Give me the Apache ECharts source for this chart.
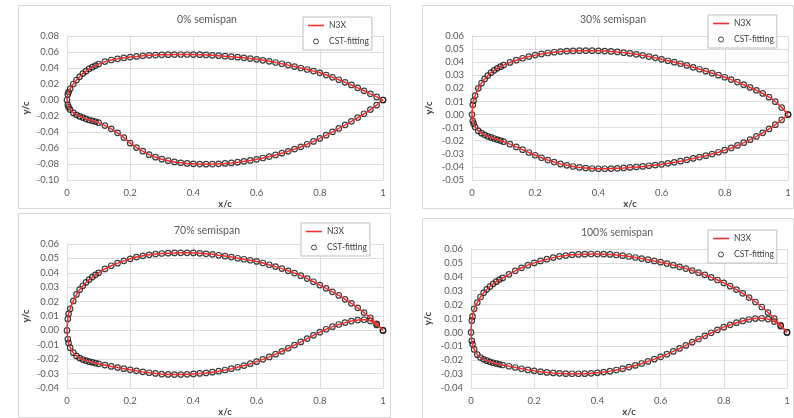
<!DOCTYPE html>
<html>
<head>
<meta charset="utf-8">
<script src="https://cdn.jsdelivr.net/npm/echarts@6/dist/echarts.min.js"></script>
<style>
html, body { margin: 0; padding: 0; background: #fff; }
#chart { width: 794px; height: 418px; }
</style>
</head>
<body>
<div id="chart"></div>
<script>
// chordwise stations shared by every section
const xStations = [0, 0.0025, 0.005, 0.01, 0.02, 0.03, 0.04, 0.05, 0.06, 0.07, 0.08, 0.09, 0.10,
    0.12, 0.14, 0.16, 0.18, 0.20,
    0.22, 0.24, 0.26, 0.28, 0.30,
    0.32, 0.34, 0.36, 0.38, 0.40,
    0.42, 0.44, 0.46, 0.48, 0.50,
    0.52, 0.54, 0.56, 0.58, 0.60,
    0.62, 0.64, 0.66, 0.68, 0.70,
    0.72, 0.74, 0.76, 0.78, 0.80,
    0.82, 0.84, 0.86, 0.88, 0.90,
    0.92, 0.94, 0.96, 0.98, 1.00];

// 0% semispan
const upper0 = [0, 0.007, 0.010, 0.014, 0.020, 0.025, 0.029, 0.033, 0.036, 0.039, 0.041, 0.043, 0.045,
    0.0480, 0.0500, 0.0515, 0.0527, 0.0537,
    0.0545, 0.0552, 0.0558, 0.0562, 0.0565,
    0.0567, 0.0568, 0.0569, 0.0569, 0.0568,
    0.0566, 0.0563, 0.0559, 0.0554, 0.0548,
    0.0542, 0.0535, 0.0527, 0.0518, 0.0508,
    0.0496, 0.0483, 0.0469, 0.0453, 0.0436,
    0.0418, 0.0400, 0.0381, 0.0361, 0.0340,
    0.0312, 0.0283, 0.0253, 0.0221, 0.0188,
    0.0152, 0.0115, 0.0077, 0.0039, 0];
const lower0 = [0, -0.006, -0.009, -0.012, -0.016, -0.0185, -0.0205, -0.022, -0.0235, -0.025, -0.026, -0.027, -0.0283,
    -0.0320, -0.0360, -0.0410, -0.0470, -0.0540,
    -0.0595, -0.0640, -0.0683, -0.0715, -0.0740,
    -0.0759, -0.0774, -0.0785, -0.0793, -0.0798,
    -0.0801, -0.0802, -0.0801, -0.0798, -0.0793,
    -0.0786, -0.0777, -0.0767, -0.0755, -0.0741,
    -0.0725, -0.0707, -0.0687, -0.0665, -0.0641,
    -0.0614, -0.0585, -0.0553, -0.0518, -0.0480,
    -0.0440, -0.0398, -0.0355, -0.0311, -0.0266,
    -0.0220, -0.0172, -0.0120, -0.0063, 0];

// 30% semispan
const upper30 = [0, 0.0075, 0.0105, 0.0145, 0.0200, 0.0240, 0.0272, 0.0298, 0.0320, 0.0338, 0.0353, 0.0366, 0.0378,
    0.0398, 0.0415, 0.0430, 0.0443, 0.0454,
    0.0463, 0.0470, 0.0476, 0.0481, 0.0484,
    0.0486, 0.0488, 0.0488, 0.0488, 0.0487,
    0.0485, 0.0482, 0.0478, 0.0473, 0.0467,
    0.0460, 0.0452, 0.0443, 0.0433, 0.0422,
    0.0411, 0.0400, 0.0388, 0.0375, 0.0361,
    0.0346, 0.0331, 0.0316, 0.0301, 0.0285,
    0.0267, 0.0248, 0.0228, 0.0207, 0.0185,
    0.0161, 0.0133, 0.0098, 0.0053, 0];
const lower30 = [0, -0.005, -0.007, -0.0095, -0.0125, -0.0142, -0.0155, -0.0166, -0.0175, -0.0183, -0.0191, -0.0199, -0.0207,
    -0.0226, -0.0247, -0.0268, -0.0290, -0.0311,
    -0.0330, -0.0348, -0.0363, -0.0377, -0.0388,
    -0.0397, -0.0404, -0.0409, -0.0412, -0.0414,
    -0.0414, -0.0413, -0.0411, -0.0408, -0.0404,
    -0.0400, -0.0396, -0.0391, -0.0386, -0.0380,
    -0.0373, -0.0365, -0.0356, -0.0346, -0.0335,
    -0.0325, -0.0314, -0.0302, -0.0288, -0.0272,
    -0.0255, -0.0236, -0.0215, -0.0192, -0.0167,
    -0.0140, -0.0110, -0.0077, -0.0040, 0];

// 70% semispan
const upper70 = [0, 0.0080, 0.0115, 0.0150, 0.0205, 0.0250, 0.0283, 0.0310, 0.0333, 0.0353, 0.0370, 0.0386, 0.0400,
    0.0427, 0.0449, 0.0467, 0.0483, 0.0497,
    0.0509, 0.0518, 0.0525, 0.0530, 0.0534,
    0.0536, 0.0538, 0.0539, 0.0539, 0.0538,
    0.0535, 0.0532, 0.0528, 0.0522, 0.0516,
    0.0509, 0.0501, 0.0494, 0.0487, 0.0479,
    0.0468, 0.0456, 0.0443, 0.0429, 0.0414,
    0.0398, 0.0380, 0.0360, 0.0338, 0.0315,
    0.0292, 0.0268, 0.0243, 0.0216, 0.0188,
    0.0157, 0.0124, 0.0088, 0.0046, 0];
const lower70 = [0, -0.0060, -0.0088, -0.0120, -0.0155, -0.0177, -0.0192, -0.0202, -0.0210, -0.0217, -0.0222, -0.0227, -0.0232,
    -0.0241, -0.0250, -0.0258, -0.0266, -0.0274,
    -0.0281, -0.0288, -0.0294, -0.0299, -0.0303,
    -0.0306, -0.0307, -0.0307, -0.0305, -0.0302,
    -0.0299, -0.0295, -0.0290, -0.0283, -0.0275,
    -0.0266, -0.0256, -0.0244, -0.0231, -0.0217,
    -0.0201, -0.0184, -0.0165, -0.0145, -0.0124,
    -0.0102, -0.0080, -0.0057, -0.0034, -0.0012,
    0.0008, 0.0026, 0.0041, 0.0054, 0.0065,
    0.0072, 0.0074, 0.0066, 0.0038, 0];

// 100% semispan
const upper100 = [0, 0.0085, 0.0115, 0.0170, 0.0215, 0.0255, 0.0285, 0.0310, 0.0330, 0.0350, 0.0365, 0.0380, 0.0392,
    0.0418, 0.0443, 0.0465, 0.0484, 0.0500,
    0.0514, 0.0527, 0.0538, 0.0547, 0.0553,
    0.0558, 0.0561, 0.0563, 0.0564, 0.0564,
    0.0563, 0.0561, 0.0557, 0.0552, 0.0546,
    0.0539, 0.0531, 0.0523, 0.0514, 0.0505,
    0.0495, 0.0484, 0.0472, 0.0459, 0.0445,
    0.0430, 0.0414, 0.0396, 0.0377, 0.0356,
    0.0333, 0.0308, 0.0281, 0.0251, 0.0219,
    0.0183, 0.0143, 0.0099, 0.0051, 0];
const lower100 = [0, -0.006, -0.0085, -0.0122, -0.0160, -0.0180, -0.0193, -0.0203, -0.0211, -0.0218, -0.0224, -0.0229, -0.0234,
    -0.0243, -0.0252, -0.0261, -0.0269, -0.0276,
    -0.0282, -0.0287, -0.0291, -0.0294, -0.0296,
    -0.0297, -0.0297, -0.0296, -0.0294, -0.0290,
    -0.0285, -0.0278, -0.0270, -0.0260, -0.0249,
    -0.0237, -0.0223, -0.0208, -0.0192, -0.0175,
    -0.0156, -0.0136, -0.0115, -0.0093, -0.0070,
    -0.0047, -0.0024, -0.0002, 0.0019, 0.0038,
    0.0055, 0.0070, 0.0083, 0.0093, 0.0100,
    0.0102, 0.0096, 0.0078, 0.0045, 0];

const titles = ['0% semispan', '30% semispan', '70% semispan', '100% semispan'];
const uppers = [upper0, upper30, upper70, upper100];
const lowers = [lower0, lower30, lower70, lower100];
const yMins = [-0.10, -0.05, -0.04, -0.04];
const yMaxs = [0.08, 0.06, 0.06, 0.06];
const yIntervals = [0.02, 0.01, 0.01, 0.01];

const FONT = 'Lato';
const TXT = '#595959';
const GRIDC = '#dedede';

// panel layout
const grids = [
    { left: 67, top: 36, width: 316, height: 144 },
    { left: 472, top: 36, width: 316, height: 144 },
    { left: 67, top: 244, width: 316, height: 144 },
    { left: 471, top: 249, width: 316, height: 144 },
];
const titlePos = [[207, 14], [613, 14], [207, 225], [617, 227]];
const legendPos = [[303, 17], [708, 15], [301, 223], [708, 230]];
const frames = [[18, 5, 372, 203], [422, 5, 371, 203], [18, 213, 372, 204], [422, 218, 371, 210]];
const yNameGap = [36, 38, 36, 38];

// closed outline: upper surface TE -> LE, then lower surface LE -> TE
const outline = (up, lo) => {
    const pts = [];
    for (let i = xStations.length - 1; i >= 0; i--) pts.push([xStations[i], up[i]]);
    for (let i = 1; i < xStations.length; i++) pts.push([xStations[i], lo[i]]);
    return pts;
};

const fmtY = v => (Math.abs(v) < 1e-9 ? 0 : v).toFixed(2);

const chart = echarts.init(document.getElementById('chart'));

const option = {
    animation: false,
    backgroundColor: '#fff',
    title: titles.map((t, i) => ({
        text: t,
        left: titlePos[i][0],
        top: titlePos[i][1],
        textAlign: 'center',
        padding: 0,
        textStyle: { fontFamily: FONT, fontSize: 10.5, fontWeight: 'normal', color: TXT },
    })),
    legend: legendPos.map(p => ({
        left: p[0],
        top: p[1],
        orient: 'vertical',
        selectedMode: false,
        itemWidth: 16,
        itemHeight: 5,
        itemGap: 7,
        padding: [4, 3, 4, 5],
        borderColor: '#bfbfbf',
        borderWidth: 1,
        backgroundColor: '#fff',
        textStyle: { fontFamily: FONT, fontSize: 8.5, color: '#404040' },
        data: [
            { name: 'N3X', icon: 'path://M0,0H20V2H0Z', itemStyle: { color: '#f03030' } },
            { name: 'CST-fitting', icon: 'circle', itemStyle: { color: 'transparent', borderColor: '#1a1a1a', borderWidth: 1 } },
        ],
    })),
    grid: grids,
    xAxis: grids.map((g, i) => ({
        gridIndex: i,
        type: 'value',
        min: 0,
        max: 1,
        interval: 0.2,
        axisLine: { show: true, onZero: false, lineStyle: { color: GRIDC } },
        axisTick: { show: false },
        splitLine: { show: true, lineStyle: { color: GRIDC } },
        axisLabel: { fontFamily: FONT, fontSize: 9.5, color: TXT, margin: 8 },
        name: 'x/c',
        nameLocation: 'middle',
        nameGap: 15,
        nameTextStyle: { fontFamily: FONT, fontSize: 9.5, fontWeight: 'bold', color: '#404040' },
    })),
    yAxis: grids.map((g, i) => ({
        gridIndex: i,
        type: 'value',
        min: yMins[i],
        max: yMaxs[i],
        interval: yIntervals[i],
        axisLine: { show: true, lineStyle: { color: GRIDC } },
        axisTick: { show: false },
        splitLine: { show: true, lineStyle: { color: GRIDC } },
        axisLabel: { fontFamily: FONT, fontSize: 9.5, color: TXT, margin: 8, formatter: fmtY },
        name: 'y/c',
        nameLocation: 'middle',
        nameGap: yNameGap[i],
        nameTextStyle: { fontFamily: FONT, fontSize: 9.5, fontWeight: 'bold', color: '#404040' },
    })),
    graphic: frames.map(f => ({
        type: 'rect',
        silent: true,
        z: -10,
        shape: { x: f[0] + 0.5, y: f[1] + 0.5, width: f[2], height: f[3] },
        style: { fill: 'none', stroke: '#d9d9d9', lineWidth: 1 },
    })),
    series: [],
};

titles.forEach((t, i) => {
    const pts = outline(uppers[i], lowers[i]);
    option.series.push({
        name: 'CST-fitting',
        type: 'scatter',
        xAxisIndex: i,
        yAxisIndex: i,
        symbol: 'circle',
        symbolSize: 5.5,
        itemStyle: { color: 'transparent', borderColor: '#111', borderWidth: 1.2 },
        data: pts,
    });
    option.series.push({
        name: 'N3X',
        type: 'line',
        xAxisIndex: i,
        yAxisIndex: i,
        showSymbol: false,
        smooth: 0.2,
        lineStyle: { color: '#f03030', width: 1.5 },
        itemStyle: { color: '#f03030' },
        data: pts,
    });
});

chart.setOption(option);
</script>
</body>
</html>
